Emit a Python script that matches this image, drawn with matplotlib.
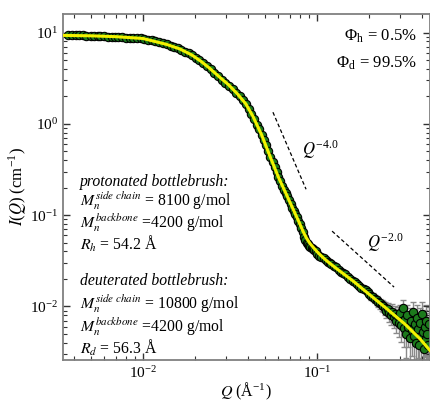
import matplotlib
matplotlib.use("Agg")
import matplotlib.pyplot as plt

plt.rcParams['font.family'] = ['Liberation Serif', 'DejaVu Serif']
plt.rcParams['mathtext.fontset'] = 'stix'
plt.rcParams['font.size'] = 11

# SANS data, low/mid Q (error bars smaller than the symbols)
q_lo = [0.0037, 0.0039, 0.0041, 0.0043, 0.0045, 0.0047, 0.0050, 0.0052, 0.0055, 0.0057,
        0.0060, 0.0063, 0.0066, 0.0069, 0.0072, 0.0076, 0.0080, 0.0084, 0.0088, 0.0092,
        0.0097, 0.0102, 0.0107, 0.0112, 0.0118, 0.0124, 0.0130, 0.0137, 0.0144, 0.0151,
        0.0158, 0.0166, 0.0174, 0.0183, 0.0192, 0.0201, 0.0211, 0.0222, 0.0233, 0.0245,
        0.0257, 0.0270, 0.0283, 0.0297, 0.0312, 0.0328, 0.0344,
        0.0361, 0.0375, 0.0390, 0.0405, 0.0420, 0.0435, 0.0450, 0.0465, 0.0480, 0.0495,
        0.0510, 0.0525, 0.0540, 0.0555, 0.0570, 0.0585, 0.0600, 0.0615, 0.0630, 0.0645,
        0.0660, 0.0675, 0.0690, 0.0705, 0.0720, 0.0735, 0.0750, 0.0765, 0.0780, 0.0795,
        0.0810, 0.0825, 0.0840, 0.0855, 0.0870, 0.0885, 0.0900, 0.0915, 0.0930, 0.0945,
        0.0960, 0.0980, 0.1000, 0.1030, 0.1060, 0.1090, 0.1120, 0.1150, 0.1180, 0.1210,
        0.1250, 0.1290, 0.1330, 0.1370, 0.1410, 0.1450, 0.1500, 0.1550, 0.1600, 0.1650,
        0.1700, 0.1750, 0.1800, 0.1850, 0.1900, 0.1950]
i_lo = [9.5, 9.3, 9.4, 9.3, 9.3, 9.2, 9.2, 9.2, 9.1, 9.1,
        9.1, 9.0, 9.0, 9.0, 8.9, 8.9, 8.8, 8.8, 8.7, 8.7,
        8.6, 8.5, 8.3, 8.2, 8.0, 7.8, 7.6, 7.4, 7.2, 6.9,
        6.7, 6.4, 6.1, 5.9, 5.6, 5.3, 5.0, 4.65, 4.3, 3.95,
        3.6, 3.3, 3.05, 2.8, 2.6, 2.4, 2.2,
        2.0, 1.83, 1.65, 1.47, 1.29, 1.13, 0.98, 0.87, 0.76, 0.67,
        0.58, 0.50, 0.43, 0.38, 0.34, 0.30, 0.26, 0.235, 0.21, 0.19,
        0.175, 0.16, 0.145, 0.132, 0.121, 0.111, 0.103, 0.095, 0.087, 0.080,
        0.072, 0.065, 0.058, 0.053, 0.050, 0.048, 0.046, 0.045, 0.0435, 0.0425,
        0.0415, 0.040, 0.038, 0.036, 0.035, 0.034, 0.032, 0.031, 0.030, 0.029,
        0.028, 0.027, 0.025, 0.024, 0.023, 0.0225, 0.021, 0.020, 0.0192, 0.0184,
        0.0176, 0.0168, 0.0160, 0.0156, 0.0150, 0.0144]

# high Q, noisy tail with visible error bars
q_hi = [0.200, 0.205, 0.210, 0.215, 0.220, 0.225, 0.230, 0.235, 0.240, 0.245,
        0.250, 0.255, 0.260, 0.265, 0.270, 0.275, 0.280, 0.285, 0.290, 0.295,
        0.300, 0.305, 0.310, 0.315, 0.320, 0.325, 0.330, 0.335, 0.340, 0.345,
        0.350, 0.355, 0.360, 0.365, 0.370, 0.375, 0.380, 0.385, 0.390, 0.395,
        0.400, 0.405, 0.410, 0.415, 0.420, 0.425, 0.430, 0.435, 0.440]
i_hi = [0.0138, 0.0130, 0.0128, 0.0121, 0.0118, 0.0112, 0.0108, 0.0104, 0.0101, 0.0096,
        0.0090, 0.0094, 0.0085, 0.0080, 0.0088, 0.0076, 0.0082, 0.0070, 0.0078, 0.0066,
        0.0084, 0.0062, 0.0095, 0.0058, 0.0072, 0.0050, 0.0080, 0.0060, 0.0045, 0.0070,
        0.0055, 0.0086, 0.0048, 0.0065, 0.0040, 0.0075, 0.0056, 0.0038, 0.0066, 0.0048,
        0.0082, 0.0052, 0.0034, 0.0060, 0.0044, 0.0070, 0.0050, 0.0038, 0.0064]
di_hi = [0.0012, 0.0012, 0.0012, 0.0013, 0.0013, 0.0013, 0.0014, 0.0014, 0.0015, 0.0015,
         0.0016, 0.0016, 0.0017, 0.0017, 0.0018, 0.0018, 0.0019, 0.0019, 0.0020, 0.0020,
         0.0021, 0.0021, 0.0022, 0.0022, 0.0023, 0.0023, 0.0024, 0.0024, 0.0025, 0.0025,
         0.0026, 0.0026, 0.0027, 0.0027, 0.0028, 0.0028, 0.0029, 0.0029, 0.0030, 0.0030,
         0.0031, 0.0031, 0.0032, 0.0032, 0.0033, 0.0033, 0.0034, 0.0034, 0.0035]

# model fit
q_fit = [0.0035, 0.005, 0.007, 0.010, 0.0137, 0.0163, 0.0190, 0.0215, 0.0240, 0.0277,
         0.0310, 0.0347, 0.0390, 0.0428, 0.0480, 0.0537, 0.0600, 0.0670, 0.0750, 0.0790,
         0.0832, 0.0870, 0.0910, 0.0950, 0.100, 0.107, 0.115, 0.130, 0.161, 0.200,
         0.252, 0.320, 0.391, 0.445]
i_fit = [9.3, 9.2, 9.0, 8.6, 7.4, 6.6, 5.7, 4.85, 4.1, 3.22,
         2.68, 2.15, 1.65, 1.21, 0.76, 0.44, 0.26, 0.165, 0.103, 0.083,
         0.066, 0.056, 0.049, 0.0445, 0.0398, 0.035, 0.031, 0.0258, 0.019, 0.0135,
         0.0094, 0.0064, 0.0044, 0.0033]

# power-law guide lines
q_p4 = [0.0558, 0.0865]
i_p4 = [1.34, 0.192]
q_p2 = [0.122, 0.277]
i_p2 = [0.0668, 0.0163]

fig = plt.figure(figsize=(4.31, 4.03), dpi=100)
ax = fig.add_axes([0.146, 0.107, 0.8515, 0.8586])
ax.set_xscale('log')
ax.set_yscale('log')

green = '#1c7a1c'
ax.errorbar(q_hi, i_hi, yerr=di_hi, fmt='none', ecolor='#8a8a8a',
            elinewidth=1.0, capsize=2.5, capthick=1.0, zorder=1)
ax.plot(q_lo, i_lo, 'o', ms=6, mfc=green, mec='black', mew=0.8, zorder=2)
ax.plot(q_hi, i_hi, 'o', ms=6, mfc=green, mec='black', mew=0.8, zorder=2)
ax.plot(q_fit, i_fit, '-', color='#f2f200', lw=2.2, zorder=3)

ax.plot(q_p4, i_p4, color='black', lw=0.9, dashes=(3, 2))
ax.plot(q_p2, i_p2, color='black', lw=0.9, dashes=(3, 2))

ax.set_xlim(0.00347, 0.445)
ax.set_ylim(0.0026, 16)

ax.set_xlabel(r'$Q$ (Å$^{\mathregular{-1}}$)', fontsize=11.5, labelpad=0)
ax.set_ylabel(r'$I$($Q$) (cm$^{\mathregular{-1}}$)', fontsize=12, labelpad=1)

for s in ax.spines.values():
    s.set_color('#808080')
    s.set_linewidth(1.3)
ax.tick_params(which='both', direction='in', top=True, right=True, color='#333333')
ax.tick_params(which='major', length=5, width=1, labelsize=11)
ax.tick_params(which='minor', length=3, width=0.8)

ax.text(0.652, 0.607, r'$Q^{\mathregular{-4.0}}$', transform=ax.transAxes,
        fontsize=12, ha='left', va='center')
ax.text(0.828, 0.338, r'$Q^{\mathregular{-2.0}}$', transform=ax.transAxes,
        fontsize=12, ha='left', va='center')

ax.text(0.965, 0.936, r'Φ$_{\mathregular{h}}$ = 0.5%', transform=ax.transAxes,
        fontsize=12, ha='right', va='center')
ax.text(0.965, 0.858, r'Φ$_{\mathregular{d}}$ = 99.5%', transform=ax.transAxes,
        fontsize=12, ha='right', va='center')

lines = [
    (182, 'protonated bottlebrush:', 'italic'),
    (201, r'$M_n^{side\ chain}$ = 8100 g/mol', 'normal'),
    (223, r'$M_n^{backbone}$ =4200 g/mol', 'normal'),
    (244, r'$R_h$ = 54.2 Å', 'normal'),
    (281, 'deuterated bottlebrush:', 'italic'),
    (304, r'$M_n^{side\ chain}$ = 10800 g/mol', 'normal'),
    (327, r'$M_n^{backbone}$ =4200 g/mol', 'normal'),
    (348, r'$R_d$ = 56.3 Å', 'normal'),
]
for ypix, txt, style in lines:
    ax.text(0.046, 1 - (ypix - 14) / 346, txt, transform=ax.transAxes,
            fontsize=11.3, style=style, ha='left', va='center')

fig.savefig('out.png', dpi=100)
